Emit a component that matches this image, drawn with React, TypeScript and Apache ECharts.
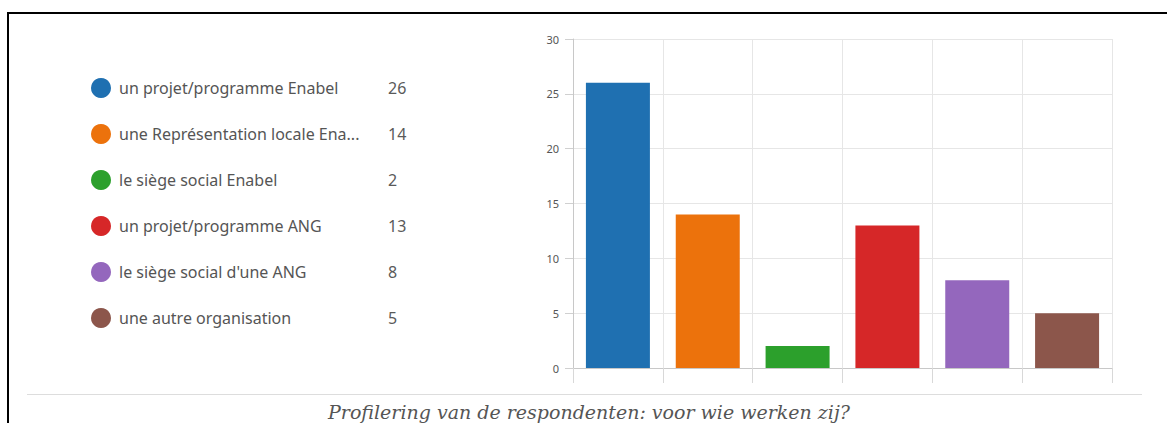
import React, { useEffect, useRef } from "react";
import * as echarts from "echarts";

const categories = [
  "un projet/programme Enabel",
  "une Représentation locale Ena...",
  "le siège social Enabel",
  "un projet/programme ANG",
  "le siège social d'une ANG",
  "une autre organisation",
];
const values = [26, 14, 2, 13, 8, 5];
const colors = ["#1f70b1", "#ec720c", "#2ca02c", "#d62728", "#9467bd", "#8c564b"];
const yTicks = { min: 0, max: 30, interval: 5 };
const caption = "Profilering van de respondenten: voor wie werken zij?";

export default function App() {
  const ref = useRef<HTMLDivElement>(null);
  useEffect(() => {
    if (!ref.current) return;
    const chart = echarts.init(ref.current, undefined, { renderer: "svg" });
    const series = categories.map((name, i) => ({
      name,
      type: "bar",
      stack: "all",
      barWidth: 64,
      itemStyle: { color: colors[i] },
      data: categories.map((_, j) => (j === i ? values[i] : "-")),
    }));
    const valueByName: Record<string, number> = {};
    categories.forEach((c, i) => (valueByName[c] = values[i]));
    chart.setOption({
      animation: false,
      backgroundColor: "#ffffff",
      grid: { left: 573, right: 55, top: 39, bottom: 55, containLabel: false },
      legend: {
        orient: "vertical",
        left: 86,
        top: 73,
        icon: "circle",
        itemWidth: 20,
        itemHeight: 20,
        itemGap: 26,
        selectedMode: false,
        data: categories,
        formatter: (name: string) => `{a|${name}}{b|${valueByName[name]}}`,
        textStyle: {
          fontFamily: "Noto Sans",
          fontSize: 16,
          color: "#555",
          rich: {
            a: { width: 269, padding: [0, 0, 0, 3], fontFamily: "Noto Sans", fontSize: 16, color: "#555" },
            b: { fontFamily: "Noto Sans", fontSize: 16, color: "#5a5a5a" },
          },
        },
      },
      xAxis: {
        type: "category",
        data: categories,
        boundaryGap: true,
        axisLine: { show: true, lineStyle: { color: "#c8c8c8" } },
        axisTick: { show: true, interval: 0, length: 15, lineStyle: { color: "#d8d8d8" } },
        axisLabel: { show: false, interval: 0 },
        splitLine: { show: true, interval: 0, lineStyle: { color: "#e6e6e6" } },
      },
      yAxis: {
        type: "value",
        min: yTicks.min,
        max: yTicks.max,
        interval: yTicks.interval,
        axisLine: { show: true, lineStyle: { color: "#c8c8c8" } },
        axisTick: { show: true, length: 8, lineStyle: { color: "#d0d0d0" } },
        axisLabel: { margin: 14, fontFamily: "Noto Sans", fontSize: 11, color: "#555" },
        splitLine: { show: true, lineStyle: { color: "#e6e6e6" } },
      },
      series,
      graphic: [
        {
          type: "line",
          shape: { x1: 7, y1: 13, x2: 1167, y2: 13 },
          style: { stroke: "#000", lineWidth: 2 },
        },
        {
          type: "line",
          shape: { x1: 8, y1: 12, x2: 8, y2: 423 },
          style: { stroke: "#000", lineWidth: 2 },
        },
        {
          type: "line",
          shape: { x1: 27, y1: 394.5, x2: 1142, y2: 394.5 },
          style: { stroke: "#dddddd", lineWidth: 1 },
        },
        {
          type: "text",
          x: 589,
          y: 412,
          style: {
            text: caption,
            fontFamily: "DejaVu Serif",
            fontStyle: "italic",
            fontSize: 19,
            fill: "#555",
            align: "center",
            verticalAlign: "middle",
          },
        },
      ],
    });
    return () => chart.dispose();
  }, []);
  return (
    <div
      ref={ref}
      style={{ position: "fixed", left: 0, top: 0, width: 1167, height: 423, background: "#fff" }}
    />
  );
}
